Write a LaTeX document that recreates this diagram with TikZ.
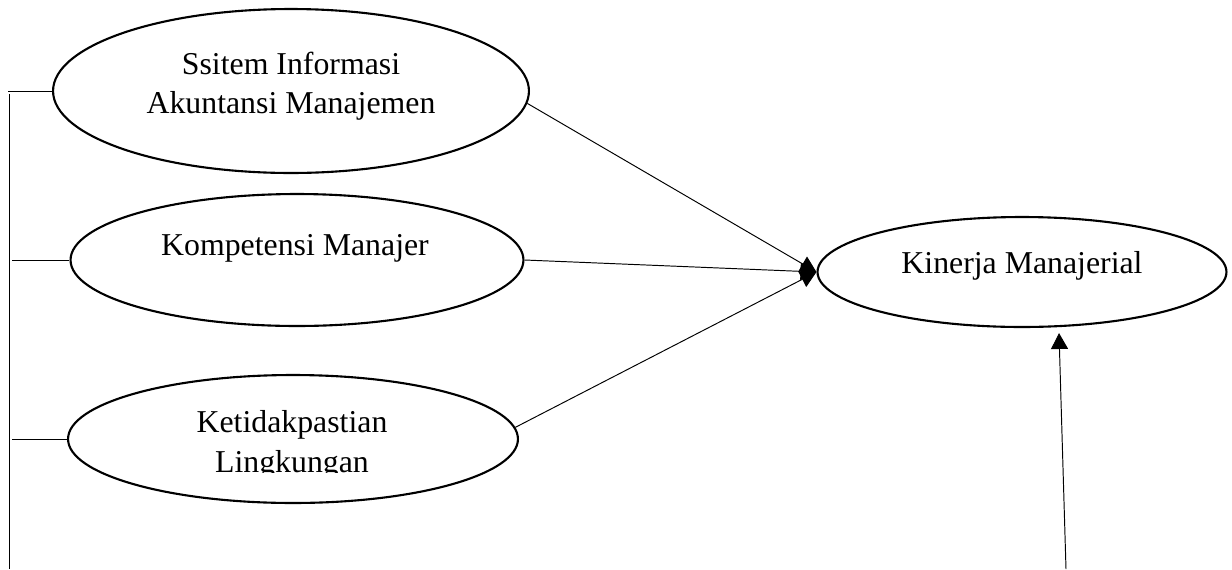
\documentclass[tikz,border=0pt]{standalone}
\usepackage{fontspec}
\setmainfont{Liberation Serif}
\usetikzlibrary{shapes.geometric,arrows.meta}

\tikzset{
  var/.style={draw, ellipse, line width=1.2pt, inner sep=0pt},
  lbl/.style={font=\fontsize{18.1}{22.5}\selectfont, align=center, inner sep=0pt},
  link/.style={line width=0.55pt, -{Triangle[length=0.32cm,width=0.34cm]}},
  bus/.style={line width=0.55pt}
}

\begin{document}
\begin{tikzpicture}[x=0.02cm,y=-0.02cm]
  \useasboundingbox (0,0) rectangle (1232,569);
  % variables
  \node[var, minimum width=9.52cm, minimum height=3.28cm] (sia) at (291,91) {};
  \node[var, minimum width=9.06cm, minimum height=2.64cm] (km) at (297,260) {};
  \node[var, minimum width=9.0cm, minimum height=2.56cm] (kl) at (293,439) {};
  \node[var, minimum width=8.18cm, minimum height=2.2cm] (kin) at (1022,272) {};
  % texts
  \node[lbl] (siatxt) at (291,86) {Ssitem Informasi\\Akuntansi Manajemen};
  \node[lbl, anchor=base] (kmtxt) at (295,255) {Kompetensi Manajer};
  \node[lbl, anchor=base] (kintxt) at (1022,273) {Kinerja Manajerial};
  \begin{scope}
    \clip (0,0) rectangle (1232,472);
    \node[lbl] (kltxt) at (292,445) {Ketidakpastian\\Lingkungan};
  \end{scope}
  % left line
  \coordinate (t1) at (8,91);
  \coordinate (t2) at (12,260);
  \coordinate (t3) at (12,439);
  \coordinate (top) at (9,94);
  \coordinate (bot) at (9,569);
  \draw[bus] (t1) -- (sia.west);
  \draw[bus] (t2) -- (km.west);
  \draw[bus] (t3) -- (kl.west);
  \draw[bus] (top) -- (bot);
  % arrows
  \draw[link] (sia.-3) -- (kin.west);
  \draw[link] (km.east) -- (kin.west);
  \draw[link] (kl.3) -- (kin.west);
  \coordinate (src) at (1066,569);
  \coordinate (dst) at (1059,333);
  \draw[link] (src) -- (dst);
\end{tikzpicture}
\end{document}
